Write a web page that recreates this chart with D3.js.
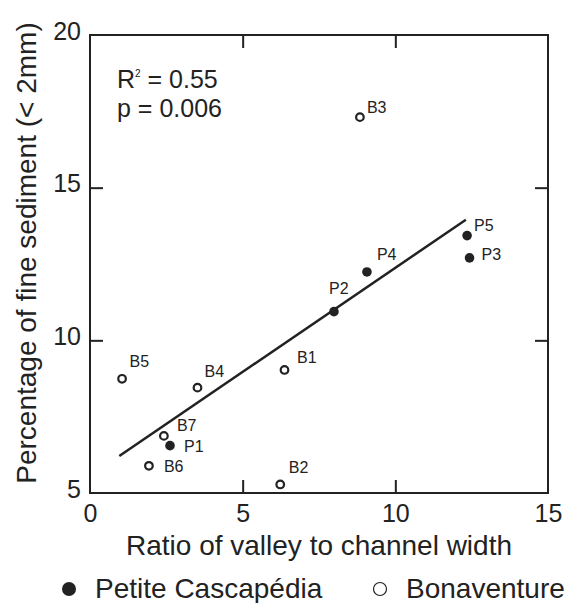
<!DOCTYPE html>
<html>
<head>
<meta charset="utf-8">
<script src="https://cdn.jsdelivr.net/npm/d3@7"></script>
<style>
  body { margin: 0; background: #fff; }
  svg { display: block; font-family: 'Liberation Sans', Arial, Helvetica, sans-serif; }
  .axis text { fill: #222; }
  .axis line { stroke: #222; stroke-width: 2; }
</style>
</head>
<body>
<svg id="chart"></svg>
<script>
// Site data
const sites = ['P1', 'P2', 'P3', 'P4', 'P5', 'B1', 'B2', 'B3', 'B4', 'B5', 'B6', 'B7'];
const river = ['Petite Cascapédia', 'Petite Cascapédia', 'Petite Cascapédia', 'Petite Cascapédia', 'Petite Cascapédia',
               'Bonaventure', 'Bonaventure', 'Bonaventure', 'Bonaventure', 'Bonaventure', 'Bonaventure', 'Bonaventure'];
const valleyRatio = [2.62, 7.99, 12.43, 9.07, 12.35, 6.37, 6.23, 8.84, 3.52, 1.05, 1.93, 2.42];
const fineSediment = [6.55, 10.94, 12.70, 12.24, 13.43, 9.03, 5.28, 17.31, 8.45, 8.74, 5.89, 6.87];

// regression line end points
const fitX = [0.96, 12.31];
const fitY = [6.21, 13.95];

const xTicks = [0, 5, 10, 15];
const yTicks = [5, 10, 15, 20];
const rivers = ['Petite Cascapédia', 'Bonaventure'];
const statLines = ['= 0.55', 'p = 0.006'];

const config = {
  width: 571,
  height: 603,
  margin: {top: 35, right: 23, bottom: 110, left: 90}
};

const width = config.width - config.margin.left - config.margin.right;
const height = config.height - config.margin.top - config.margin.bottom;

const svg = d3.select('#chart')
    .attr('width', config.width)
    .attr('height', config.height);

const chart = svg.append('g')
    .attr('transform', `translate(${config.margin.left},${config.margin.top})`);

const xScale = d3.scaleLinear().domain([0, 15]).range([0, width]);
const yScale = d3.scaleLinear().domain([5, 20]).range([height, 0]);

const ink = '#222';

// ticks point inward on all four sides
const xAxis = d3.axisBottom(xScale).tickValues(xTicks).tickSizeInner(-13).tickSizeOuter(0).tickPadding(11);
const yAxis = d3.axisLeft(yScale).tickValues(yTicks).tickSizeInner(-13).tickSizeOuter(0).tickPadding(9);
const xTop = d3.axisTop(xScale).tickValues([5, 10]).tickSizeInner(-13).tickSizeOuter(0).tickFormat('');
const yRight = d3.axisRight(yScale).tickValues([10, 15]).tickSizeInner(-13).tickSizeOuter(0).tickFormat('');

const xAxisG = chart.append('g')
    .attr('class', 'axis x-axis')
    .attr('transform', `translate(0,${height})`)
    .call(xAxis);
xAxisG.selectAll('text').style('font-size', '25px');
xAxisG.selectAll('.tick').filter(d => d === 0 || d === 15).select('line').remove();

const yAxisG = chart.append('g')
    .attr('class', 'axis y-axis')
    .call(yAxis);
yAxisG.selectAll('text').style('font-size', '25px').attr('dy', '0.16em');
yAxisG.selectAll('.tick').filter(d => d === 5 || d === 20).select('line').remove();

chart.append('g').attr('class', 'axis').call(xTop);
chart.append('g').attr('class', 'axis').attr('transform', `translate(${width},0)`).call(yRight);

chart.selectAll('.domain').remove();

// frame
chart.append('rect')
    .attr('width', width)
    .attr('height', height)
    .attr('fill', 'none')
    .attr('stroke', ink)
    .attr('stroke-width', 2);

// regression line
const line = d3.line()
    .x(d => xScale(d[0]))
    .y(d => yScale(d[1]));

chart.append('path')
    .datum(d3.zip(fitX, fitY))
    .attr('d', line)
    .attr('fill', 'none')
    .attr('stroke', ink)
    .attr('stroke-width', 2.5);

// points
const data = sites.map((s, i) => ({site: s, river: river[i], x: valleyRatio[i], y: fineSediment[i]}));

chart.selectAll('.pt')
    .data(data)
  .join('circle')
    .attr('class', 'pt')
    .attr('cx', d => xScale(d.x))
    .attr('cy', d => yScale(d.y))
    .attr('r', d => d.river === rivers[0] ? 4.8 : 3.8)
    .attr('fill', d => d.river === rivers[0] ? ink : '#fff')
    .attr('stroke', ink)
    .attr('stroke-width', d => d.river === rivers[0] ? 0 : 2.2);

// label placement next to each point (px)
const labelOffset = {
  P1: [14, 6], P2: [-5, -18], P3: [12, 2.5], P4: [10, -11.5], P5: [7, -5],
  B1: [12.5, -7], B2: [8.5, -11.5], B3: [7, -4.5], B4: [7, -10.5], B5: [7.5, -11.5],
  B6: [15, 6], B7: [13, -4.5]
};

chart.selectAll('.pt-label')
    .data(data)
  .join('text')
    .attr('class', 'pt-label')
    .attr('x', d => xScale(d.x) + labelOffset[d.site][0])
    .attr('y', d => yScale(d.y) + labelOffset[d.site][1])
    .attr('fill', ink)
    .style('font-size', '16px')
    .text(d => d.site);

// statistics
const stat = chart.append('text')
    .attr('x', 27)
    .attr('y', 53)
    .attr('fill', ink)
    .style('font-size', '25px');
stat.append('tspan').text('R');
stat.append('tspan').attr('dy', -11).style('font-size', '10px').text('2');
stat.append('tspan').attr('dy', 11).text(' ' + statLines[0]);

chart.append('text')
    .attr('x', 27)
    .attr('y', 82)
    .attr('fill', ink)
    .style('font-size', '25px')
    .text(statLines[1]);

// axis titles
svg.append('text')
    .attr('x', config.margin.left + width / 2)
    .attr('y', 555)
    .attr('text-anchor', 'middle')
    .attr('fill', ink)
    .style('font-size', '28px')
    .text('Ratio of valley to channel width');

svg.append('text')
    .attr('transform', `translate(36,${config.margin.top + height / 2 - 11}) rotate(-90)`)
    .attr('text-anchor', 'middle')
    .attr('fill', ink)
    .style('font-size', '28px')
    .text('Percentage of fine sediment (< 2mm)');

// legend
const legendX = [69, 380];
const legend = svg.selectAll('.legend')
    .data(rivers)
  .join('g')
    .attr('class', 'legend')
    .attr('transform', (d, i) => `translate(${legendX[i]},589)`);

legend.append('circle')
    .attr('r', (d, i) => i === 0 ? 7 : 6.5)
    .attr('fill', (d, i) => i === 0 ? ink : '#fff')
    .attr('stroke', ink)
    .attr('stroke-width', (d, i) => i === 0 ? 0 : 1.2);

legend.append('text')
    .attr('x', 26)
    .attr('y', 9)
    .attr('fill', ink)
    .style('font-size', '28px')
    .text(d => d);
</script>
</body>
</html>
